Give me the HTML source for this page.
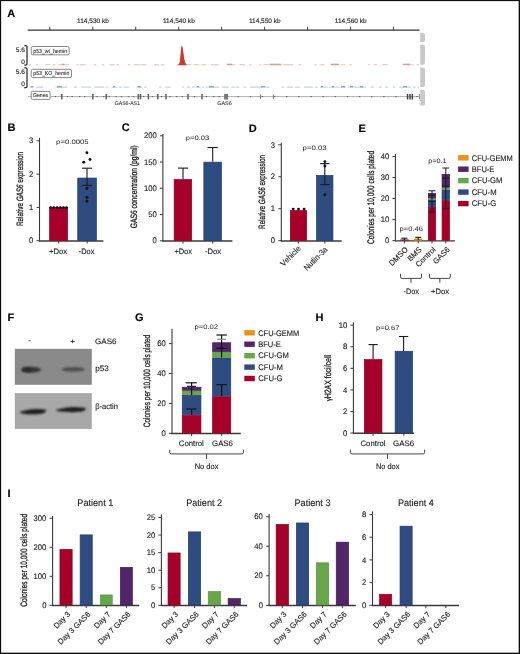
<!DOCTYPE html>
<html><head><meta charset="utf-8"><style>
html,body{margin:0;padding:0;background:#fff;width:520px;height:654px;overflow:hidden;}
svg{display:block;will-change:transform;}
text{font-family:"Liberation Sans",sans-serif;text-rendering:geometricPrecision;fill:#222;stroke:#222;stroke-width:0.12px;}
</style></head><body>
<svg width="520" height="654" viewBox="0 0 520 654">
<rect x="0" y="0" width="520" height="654" fill="#fff"/>
<text x="7.3" y="16.8" font-size="11" font-weight="bold" style="fill:#000;stroke:#000">A</text>
<line x1="27.7" y1="30.1" x2="419.6" y2="30.1" stroke="#333" stroke-width="1.15"/>
<line x1="49.8" y1="26.8" x2="49.8" y2="30" stroke="#333" stroke-width="0.9"/>
<line x1="92.76" y1="26.8" x2="92.76" y2="30" stroke="#333" stroke-width="0.9"/>
<line x1="135.72" y1="26.8" x2="135.72" y2="30" stroke="#333" stroke-width="0.9"/>
<line x1="178.68" y1="26.8" x2="178.68" y2="30" stroke="#333" stroke-width="0.9"/>
<line x1="221.64" y1="26.8" x2="221.64" y2="30" stroke="#333" stroke-width="0.9"/>
<line x1="264.6" y1="26.8" x2="264.6" y2="30" stroke="#333" stroke-width="0.9"/>
<line x1="307.56" y1="26.8" x2="307.56" y2="30" stroke="#333" stroke-width="0.9"/>
<line x1="350.52" y1="26.8" x2="350.52" y2="30" stroke="#333" stroke-width="0.9"/>
<line x1="393.48" y1="26.8" x2="393.48" y2="30" stroke="#333" stroke-width="0.9"/>
<text x="92.96" y="22.8" font-size="6.4" text-anchor="middle" textLength="31.8" lengthAdjust="spacingAndGlyphs">114,530 kb</text>
<text x="178.88" y="22.8" font-size="6.4" text-anchor="middle" textLength="31.8" lengthAdjust="spacingAndGlyphs">114,540 kb</text>
<text x="264.8" y="22.8" font-size="6.4" text-anchor="middle" textLength="31.8" lengthAdjust="spacingAndGlyphs">114,550 kb</text>
<text x="350.72" y="22.8" font-size="6.4" text-anchor="middle" textLength="31.8" lengthAdjust="spacingAndGlyphs">114,560 kb</text>
<path d="M420.2,32.8 L423,32.8 Q425,32.8 425,35 L425,40.1 Q425,42.3 423,42.3 L420.2,42.3 Z" fill="#c9c9c9"/>
<path d="M420.2,44.8 L423,44.8 Q425,44.8 425,47 L425,62.5 Q425,64.7 423,64.7 L420.2,64.7 Z" fill="#c9c9c9"/>
<path d="M420.2,67.5 L423,67.5 Q425,67.5 425,69.7 L425,84.9 Q425,87.1 423,87.1 L420.2,87.1 Z" fill="#c9c9c9"/>
<path d="M420.2,89.9 L423,89.9 Q425,89.9 425,92.1 L425,103.4 Q425,105.6 423,105.6 L420.2,105.6 Z" fill="#c9c9c9"/>
<path d="M24.3,45.5 L25.8,45.5 Q27,45.5 27,46.7 L27,63.8 Q27,65 25.8,65 L24.3,65" fill="none" stroke="#2a2a2a" stroke-width="1.25"/>
<path d="M24.3,67.9 L25.8,67.9 Q27,67.9 27,69.1 L27,86.4 Q27,87.6 25.8,87.6 L24.3,87.6" fill="none" stroke="#2a2a2a" stroke-width="1.25"/>
<text x="24.9" y="51.6" font-size="6.5" text-anchor="end">5.6</text>
<text x="24.8" y="63.6" font-size="6.5" text-anchor="end">0</text>
<text x="24.9" y="74" font-size="6.5" text-anchor="end">5.6</text>
<text x="24.8" y="86" font-size="6.5" text-anchor="end">0</text>
<rect x="31.2" y="46.5" width="37.9" height="8.3" rx="1.6" fill="#fff" stroke="#7a7a7a" stroke-width="0.9"/>
<text x="33.3" y="52.6" font-size="5.8" style="fill:#333;stroke:#333" textLength="33.8" lengthAdjust="spacingAndGlyphs">p53_wt_hemin</text>
<rect x="31.2" y="69.3" width="40.3" height="8.3" rx="1.6" fill="#fff" stroke="#7a7a7a" stroke-width="0.9"/>
<text x="33.3" y="75.3" font-size="5.8" style="fill:#333;stroke:#333" textLength="36" lengthAdjust="spacingAndGlyphs">p53_KO_hemin</text>
<line x1="28" y1="96.6" x2="31" y2="96.6" stroke="#9a9a9a" stroke-width="0.8"/>
<rect x="31.2" y="91.4" width="18.9" height="8.0" rx="1.2" fill="#fff" stroke="#7a7a7a" stroke-width="0.9"/>
<text x="33.1" y="97.1" font-size="5.6" style="fill:#333;stroke:#333" textLength="14.9" lengthAdjust="spacingAndGlyphs">Genes</text>
<rect x="28.7" y="64.25" width="2.7" height="1" fill="#efbcb3"/>
<rect x="36" y="64.25" width="2" height="1" fill="#efbcb3"/>
<rect x="45.5" y="64.25" width="4.7" height="1" fill="#efbcb3"/>
<rect x="52.9" y="64.25" width="2.7" height="1" fill="#efbcb3"/>
<rect x="58.3" y="64.25" width="10.7" height="1" fill="#efbcb3"/>
<rect x="76.5" y="64.25" width="2" height="1" fill="#efbcb3"/>
<rect x="79.8" y="64.25" width="6.1" height="1" fill="#efbcb3"/>
<rect x="93.7" y="64.25" width="2.6" height="1" fill="#efbcb3"/>
<rect x="102" y="64.25" width="2.2" height="1" fill="#efbcb3"/>
<rect x="109.5" y="64.25" width="5.7" height="1" fill="#efbcb3"/>
<rect x="116.5" y="64.25" width="2.7" height="1" fill="#efbcb3"/>
<rect x="128" y="64.25" width="2.3" height="1" fill="#efbcb3"/>
<rect x="134" y="64.25" width="6" height="1" fill="#efbcb3"/>
<rect x="140.8" y="64.25" width="5.6" height="1" fill="#efbcb3"/>
<rect x="154.2" y="64.25" width="4.7" height="1" fill="#efbcb3"/>
<rect x="161" y="64.25" width="3.3" height="1" fill="#efbcb3"/>
<rect x="187" y="64.25" width="4.5" height="1" fill="#efbcb3"/>
<rect x="193.7" y="64.25" width="5.4" height="1" fill="#efbcb3"/>
<rect x="201.2" y="64.25" width="5.1" height="1" fill="#efbcb3"/>
<rect x="210.8" y="64.25" width="8.1" height="1" fill="#efbcb3"/>
<rect x="226.7" y="64.25" width="8.8" height="1" fill="#efbcb3"/>
<rect x="239.5" y="64.25" width="5.4" height="1" fill="#efbcb3"/>
<rect x="249.3" y="64.25" width="2.3" height="1" fill="#efbcb3"/>
<rect x="259.4" y="64.25" width="2" height="1" fill="#efbcb3"/>
<rect x="263.5" y="64.25" width="18.1" height="1" fill="#efbcb3"/>
<rect x="283.6" y="64.25" width="9.5" height="1" fill="#efbcb3"/>
<rect x="298.5" y="64.25" width="2.6" height="1" fill="#efbcb3"/>
<rect x="314.3" y="64.25" width="2.3" height="1" fill="#efbcb3"/>
<rect x="320.4" y="64.25" width="4" height="1" fill="#efbcb3"/>
<rect x="330.5" y="64.25" width="8.7" height="1" fill="#efbcb3"/>
<rect x="340.6" y="64.25" width="4.7" height="1" fill="#efbcb3"/>
<rect x="349.3" y="64.25" width="2.3" height="1" fill="#efbcb3"/>
<rect x="368.2" y="64.25" width="2" height="1" fill="#efbcb3"/>
<rect x="373.5" y="64.25" width="3.4" height="1" fill="#efbcb3"/>
<rect x="382.2" y="64.25" width="5.4" height="1" fill="#efbcb3"/>
<rect x="402.4" y="64.25" width="10.8" height="1" fill="#efbcb3"/>
<rect x="416.5" y="64.25" width="2.7" height="1" fill="#efbcb3"/>
<rect x="61.5" y="63.7" width="3" height="1.4" fill="#e49a8d"/>
<rect x="227" y="63.7" width="5" height="1.4" fill="#e49a8d"/>
<rect x="270" y="63.7" width="11" height="1.4" fill="#e49a8d"/>
<rect x="331" y="63.7" width="8" height="1.4" fill="#e49a8d"/>
<rect x="403" y="63.7" width="7" height="1.4" fill="#e49a8d"/>
<path d="M176.3,65.2 L178.8,64.3 L179.8,62 L180.4,55 L181.1,48 L181.9,45 L182.7,47.5 L183.5,53 L184.2,58.5 L185.2,62.8 L187.1,65.2 Z" fill="#cc3b2c"/>
<rect x="29.3" y="86.6" width="4.8" height="1" fill="#b7c8e6"/>
<rect x="36.3" y="86.6" width="6.8" height="1" fill="#b7c8e6"/>
<rect x="55.6" y="86.6" width="11.4" height="1" fill="#b7c8e6"/>
<rect x="73.8" y="86.6" width="3.3" height="1" fill="#b7c8e6"/>
<rect x="81.2" y="86.6" width="10.1" height="1" fill="#b7c8e6"/>
<rect x="94" y="86.6" width="10.4" height="1" fill="#b7c8e6"/>
<rect x="105.8" y="86.6" width="2" height="1" fill="#b7c8e6"/>
<rect x="111.8" y="86.6" width="5.4" height="1" fill="#b7c8e6"/>
<rect x="119.2" y="86.6" width="2.7" height="1" fill="#b7c8e6"/>
<rect x="123.3" y="86.6" width="6" height="1" fill="#b7c8e6"/>
<rect x="137" y="86.6" width="4.8" height="1" fill="#b7c8e6"/>
<rect x="144.1" y="86.6" width="2.7" height="1" fill="#b7c8e6"/>
<rect x="158.9" y="86.6" width="2.7" height="1" fill="#b7c8e6"/>
<rect x="165.1" y="86.6" width="5.7" height="1" fill="#b7c8e6"/>
<rect x="182.2" y="86.6" width="2" height="1" fill="#b7c8e6"/>
<rect x="186.6" y="86.6" width="3.3" height="1" fill="#b7c8e6"/>
<rect x="191.6" y="86.6" width="2.7" height="1" fill="#b7c8e6"/>
<rect x="195.7" y="86.6" width="4.7" height="1" fill="#b7c8e6"/>
<rect x="202" y="86.6" width="2.4" height="1" fill="#b7c8e6"/>
<rect x="205.8" y="86.6" width="13.4" height="1" fill="#b7c8e6"/>
<rect x="221.9" y="86.6" width="6.9" height="1" fill="#b7c8e6"/>
<rect x="231.1" y="86.6" width="4" height="1" fill="#b7c8e6"/>
<rect x="235.8" y="86.6" width="3.7" height="1" fill="#b7c8e6"/>
<rect x="243.8" y="86.6" width="2.5" height="1" fill="#b7c8e6"/>
<rect x="249.9" y="86.6" width="19.5" height="1" fill="#b7c8e6"/>
<rect x="281.5" y="86.6" width="2.7" height="1" fill="#b7c8e6"/>
<rect x="286.9" y="86.6" width="6.1" height="1" fill="#b7c8e6"/>
<rect x="294.7" y="86.6" width="5.4" height="1" fill="#b7c8e6"/>
<rect x="304.1" y="86.6" width="8.8" height="1" fill="#b7c8e6"/>
<rect x="314.9" y="86.6" width="2.7" height="1" fill="#b7c8e6"/>
<rect x="320.3" y="86.6" width="7.4" height="1" fill="#b7c8e6"/>
<rect x="329" y="86.6" width="10.8" height="1" fill="#b7c8e6"/>
<rect x="340.5" y="86.6" width="5.4" height="1" fill="#b7c8e6"/>
<rect x="347.9" y="86.6" width="17.9" height="1" fill="#b7c8e6"/>
<rect x="370.5" y="86.6" width="3.3" height="1" fill="#b7c8e6"/>
<rect x="379" y="86.6" width="2.6" height="1" fill="#b7c8e6"/>
<rect x="384.9" y="86.6" width="3.1" height="1" fill="#b7c8e6"/>
<rect x="392.7" y="86.6" width="2.7" height="1" fill="#b7c8e6"/>
<rect x="399.4" y="86.6" width="11.5" height="1" fill="#b7c8e6"/>
<rect x="413.1" y="86.6" width="2.5" height="1" fill="#b7c8e6"/>
<rect x="417.6" y="86.6" width="1.4" height="1" fill="#b7c8e6"/>
<rect x="31" y="85.9" width="2" height="1.5" fill="#8ea8d6"/>
<rect x="57" y="85.9" width="5" height="1.5" fill="#8ea8d6"/>
<rect x="113" y="85.9" width="2" height="1.5" fill="#8ea8d6"/>
<rect x="137.5" y="85.9" width="3.5" height="1.5" fill="#8ea8d6"/>
<rect x="197" y="85.9" width="2" height="1.5" fill="#8ea8d6"/>
<rect x="209" y="85.9" width="5" height="1.5" fill="#8ea8d6"/>
<rect x="261" y="85.9" width="4" height="1.5" fill="#8ea8d6"/>
<rect x="321" y="85.9" width="2" height="1.5" fill="#8ea8d6"/>
<rect x="332" y="85.9" width="2" height="1.5" fill="#8ea8d6"/>
<rect x="341" y="85.9" width="4" height="1.5" fill="#8ea8d6"/>
<rect x="350" y="85.9" width="3" height="1.5" fill="#8ea8d6"/>
<rect x="360" y="85.9" width="3" height="1.5" fill="#8ea8d6"/>
<rect x="403" y="85.9" width="4" height="1.5" fill="#8ea8d6"/>
<line x1="50.4" y1="96.6" x2="419.2" y2="96.6" stroke="#9a9a9a" stroke-width="0.8"/>
<rect x="54.7" y="96.05" width="1.4" height="1.1" fill="#666"/>
<rect x="66.8" y="96.05" width="1.4" height="1.1" fill="#666"/>
<rect x="71.5" y="96.05" width="1.4" height="1.1" fill="#666"/>
<rect x="78.9" y="96.05" width="1.4" height="1.1" fill="#666"/>
<rect x="84" y="96.05" width="1.4" height="1.1" fill="#666"/>
<rect x="96.4" y="96.05" width="1.4" height="1.1" fill="#666"/>
<rect x="103.1" y="96.05" width="1.4" height="1.1" fill="#666"/>
<rect x="108.5" y="96.05" width="1.4" height="1.1" fill="#666"/>
<rect x="115.3" y="96.05" width="1.4" height="1.1" fill="#666"/>
<rect x="120.8" y="96.05" width="1.4" height="1.1" fill="#666"/>
<rect x="127.8" y="96.05" width="1.4" height="1.1" fill="#666"/>
<rect x="132.8" y="96.05" width="1.4" height="1.1" fill="#666"/>
<rect x="142.8" y="96.05" width="1.4" height="1.1" fill="#666"/>
<rect x="151.8" y="96.05" width="1.4" height="1.1" fill="#666"/>
<rect x="160.8" y="96.05" width="1.4" height="1.1" fill="#666"/>
<rect x="169.4" y="96.05" width="1.4" height="1.1" fill="#666"/>
<rect x="176.1" y="96.05" width="1.4" height="1.1" fill="#666"/>
<rect x="181.5" y="96.05" width="1.4" height="1.1" fill="#666"/>
<rect x="193.6" y="96.05" width="1.4" height="1.1" fill="#666"/>
<rect x="205.7" y="96.05" width="1.4" height="1.1" fill="#666"/>
<rect x="213.1" y="96.05" width="1.4" height="1.1" fill="#666"/>
<rect x="218.5" y="96.05" width="1.4" height="1.1" fill="#666"/>
<rect x="237.4" y="96.05" width="1.4" height="1.1" fill="#666"/>
<rect x="249.55" y="96.05" width="1.4" height="1.1" fill="#666"/>
<rect x="261.7" y="96.05" width="1.4" height="1.1" fill="#666"/>
<rect x="273.85" y="96.05" width="1.4" height="1.1" fill="#666"/>
<rect x="286" y="96.05" width="1.4" height="1.1" fill="#666"/>
<rect x="298.15" y="96.05" width="1.4" height="1.1" fill="#666"/>
<rect x="310.3" y="96.05" width="1.4" height="1.1" fill="#666"/>
<rect x="322.45" y="96.05" width="1.4" height="1.1" fill="#666"/>
<rect x="334.6" y="96.05" width="1.4" height="1.1" fill="#666"/>
<rect x="346.75" y="96.05" width="1.4" height="1.1" fill="#666"/>
<rect x="358.9" y="96.05" width="1.4" height="1.1" fill="#666"/>
<rect x="371.05" y="96.05" width="1.4" height="1.1" fill="#666"/>
<rect x="383.2" y="96.05" width="1.4" height="1.1" fill="#666"/>
<rect x="395.35" y="96.05" width="1.4" height="1.1" fill="#666"/>
<rect x="416.2" y="96.05" width="1.4" height="1.1" fill="#666"/>
<rect x="61" y="94" width="1.6" height="5.4" fill="#666"/>
<rect x="92" y="94" width="1.6" height="5.4" fill="#666"/>
<rect x="105.5" y="94" width="1.6" height="5.4" fill="#666"/>
<rect x="137.5" y="94" width="1.6" height="5.4" fill="#666"/>
<rect x="139.7" y="94" width="1.6" height="5.4" fill="#666"/>
<rect x="147.6" y="94" width="1.6" height="5.4" fill="#666"/>
<rect x="157" y="94" width="1.6" height="5.4" fill="#666"/>
<rect x="165.2" y="94" width="1.6" height="5.4" fill="#666"/>
<rect x="187.2" y="94" width="1.6" height="5.4" fill="#666"/>
<rect x="201.2" y="94" width="1.6" height="5.4" fill="#666"/>
<rect x="260" y="94.4" width="0.8" height="4.6" fill="#666"/>
<rect x="272.9" y="94.4" width="0.8" height="4.6" fill="#666"/>
<rect x="224.1" y="93.9" width="4" height="5.6" fill="#777"/>
<rect x="406.8" y="93.9" width="1.5" height="5.6" fill="#444"/>
<rect x="409.3" y="93.9" width="1.5" height="5.6" fill="#444"/>
<rect x="411.6" y="93.9" width="1.5" height="5.6" fill="#444"/>
<rect x="418.9" y="94" width="0.8" height="5.2" fill="#666"/>
<text x="127.3" y="104.5" font-size="5.4" text-anchor="middle" style="fill:#444;stroke:#444" textLength="25" lengthAdjust="spacingAndGlyphs">GAS6-AS1</text>
<text x="224.5" y="104.5" font-size="5.4" text-anchor="middle" style="fill:#444;stroke:#444" textLength="14.6" lengthAdjust="spacingAndGlyphs">GAS6</text>
<text x="7.4" y="131.1" font-size="11" font-weight="bold" style="fill:#000;stroke:#000">B</text>
<line x1="39.5" y1="137.8" x2="39.5" y2="241.25" stroke="#3a3a3a" stroke-width="1.1"/>
<line x1="36.5" y1="240.7" x2="39.5" y2="240.7" stroke="#3a3a3a" stroke-width="0.99"/>
<text x="33.3" y="243.35" font-size="8.1" text-anchor="end" textLength="4.27" lengthAdjust="spacingAndGlyphs">0</text>
<line x1="36.5" y1="207.4" x2="39.5" y2="207.4" stroke="#3a3a3a" stroke-width="0.99"/>
<text x="33.3" y="210.05" font-size="8.1" text-anchor="end" textLength="4.27" lengthAdjust="spacingAndGlyphs">1</text>
<line x1="36.5" y1="174.1" x2="39.5" y2="174.1" stroke="#3a3a3a" stroke-width="0.99"/>
<text x="33.3" y="176.75" font-size="8.1" text-anchor="end" textLength="4.27" lengthAdjust="spacingAndGlyphs">2</text>
<line x1="36.5" y1="140.8" x2="39.5" y2="140.8" stroke="#3a3a3a" stroke-width="0.99"/>
<text x="33.3" y="143.45" font-size="8.1" text-anchor="end" textLength="4.27" lengthAdjust="spacingAndGlyphs">3</text>
<line x1="38.95" y1="240.95" x2="103.4" y2="240.95" stroke="#3a3a3a" stroke-width="1.4"/>
<line x1="58.6" y1="240.7" x2="58.6" y2="243.5" stroke="#3a3a3a" stroke-width="0.99"/>
<line x1="87.1" y1="240.7" x2="87.1" y2="243.5" stroke="#3a3a3a" stroke-width="0.99"/>
<rect x="49.55" y="207.75" width="18.1" height="32.6" fill="#a4002a" stroke="#94001f" stroke-width="0.7"/>
<rect x="77.75" y="178.05" width="18.6" height="62.3" fill="#2e4c80" stroke="#1e3a73" stroke-width="0.7"/>
<line x1="87" y1="168.2" x2="87" y2="185.5" stroke="#1a1a1a" stroke-width="1.1"/>
<line x1="82" y1="168.2" x2="92" y2="168.2" stroke="#1a1a1a" stroke-width="1.1"/>
<line x1="82" y1="185.5" x2="92" y2="185.5" stroke="#1a1a1a" stroke-width="1.1"/>
<circle cx="50.6" cy="207.6" r="1.45" fill="#111"/>
<circle cx="53.8" cy="207.6" r="1.45" fill="#111"/>
<circle cx="57" cy="207.6" r="1.45" fill="#111"/>
<circle cx="60.2" cy="207.6" r="1.45" fill="#111"/>
<circle cx="63.4" cy="207.6" r="1.45" fill="#111"/>
<circle cx="66.6" cy="207.6" r="1.45" fill="#111"/>
<circle cx="86.9" cy="152.8" r="1.45" fill="#111"/>
<circle cx="90" cy="159.5" r="1.45" fill="#111"/>
<circle cx="83.7" cy="162.3" r="1.45" fill="#111"/>
<circle cx="86.9" cy="188.4" r="1.45" fill="#111"/>
<circle cx="86.9" cy="197.5" r="1.45" fill="#111"/>
<circle cx="86.9" cy="201.2" r="1.45" fill="#111"/>
<text x="72.4" y="143.8" font-size="6.4" text-anchor="middle" style="fill:#222;stroke:none" textLength="32.6" lengthAdjust="spacingAndGlyphs">p=0.0005</text>
<text x="58.1" y="254" font-size="7.9" text-anchor="middle" textLength="18.2" lengthAdjust="spacingAndGlyphs">+Dox</text>
<text x="86.6" y="254" font-size="7.9" text-anchor="middle" textLength="15.6" lengthAdjust="spacingAndGlyphs">-Dox</text>
<text transform="translate(22.8,189) rotate(-90)" text-anchor="middle" font-size="9.2" style="stroke-width:0.3px" textLength="74" lengthAdjust="spacingAndGlyphs">Relative <tspan font-style="italic">GAS6</tspan> expression</text>
<text x="121.8" y="131.2" font-size="11" font-weight="bold" style="fill:#000;stroke:#000">C</text>
<line x1="162.9" y1="133.9" x2="162.9" y2="241.35" stroke="#3a3a3a" stroke-width="1.1"/>
<line x1="159.9" y1="240.8" x2="162.9" y2="240.8" stroke="#3a3a3a" stroke-width="0.99"/>
<text x="156.7" y="243.45" font-size="8.1" text-anchor="end" textLength="4.27" lengthAdjust="spacingAndGlyphs">0</text>
<line x1="159.9" y1="214.55" x2="162.9" y2="214.55" stroke="#3a3a3a" stroke-width="0.99"/>
<text x="156.7" y="217.2" font-size="8.1" text-anchor="end" textLength="8.54" lengthAdjust="spacingAndGlyphs">50</text>
<line x1="159.9" y1="188.3" x2="162.9" y2="188.3" stroke="#3a3a3a" stroke-width="0.99"/>
<text x="156.7" y="190.95" font-size="8.1" text-anchor="end" textLength="12.82" lengthAdjust="spacingAndGlyphs">100</text>
<line x1="159.9" y1="162.05" x2="162.9" y2="162.05" stroke="#3a3a3a" stroke-width="0.99"/>
<text x="156.7" y="164.7" font-size="8.1" text-anchor="end" textLength="12.82" lengthAdjust="spacingAndGlyphs">150</text>
<line x1="159.9" y1="135.8" x2="162.9" y2="135.8" stroke="#3a3a3a" stroke-width="0.99"/>
<text x="156.7" y="138.45" font-size="8.1" text-anchor="end" textLength="12.82" lengthAdjust="spacingAndGlyphs">200</text>
<line x1="162.35" y1="241.05" x2="232.4" y2="241.05" stroke="#3a3a3a" stroke-width="1.4"/>
<line x1="183" y1="240.8" x2="183" y2="243.6" stroke="#3a3a3a" stroke-width="0.99"/>
<line x1="212.7" y1="240.8" x2="212.7" y2="243.6" stroke="#3a3a3a" stroke-width="0.99"/>
<rect x="174.15" y="179.55" width="17.5" height="60.9" fill="#a4002a" stroke="#94001f" stroke-width="0.7"/>
<rect x="203.85" y="162.15" width="17.6" height="78.3" fill="#2e4c80" stroke="#1e3a73" stroke-width="0.7"/>
<line x1="183" y1="168.1" x2="183" y2="179.2" stroke="#1a1a1a" stroke-width="1.1"/>
<line x1="177.9" y1="168.1" x2="188.1" y2="168.1" stroke="#1a1a1a" stroke-width="1.1"/>
<line x1="212.7" y1="147.5" x2="212.7" y2="161.8" stroke="#1a1a1a" stroke-width="1.1"/>
<line x1="207.6" y1="147.5" x2="217.8" y2="147.5" stroke="#1a1a1a" stroke-width="1.1"/>
<text x="197.6" y="140" font-size="6.4" text-anchor="middle" style="fill:#222;stroke:none" textLength="23.5" lengthAdjust="spacingAndGlyphs">p=0.03</text>
<text x="183.2" y="254.4" font-size="7.9" text-anchor="middle" textLength="17.6" lengthAdjust="spacingAndGlyphs">+Dox</text>
<text x="213" y="254.4" font-size="7.9" text-anchor="middle" textLength="16" lengthAdjust="spacingAndGlyphs">-Dox</text>
<text transform="translate(136.6,186.8) rotate(-90)" text-anchor="middle" font-size="9.2" style="stroke-width:0.3px" textLength="83" lengthAdjust="spacingAndGlyphs">GAS6 concentration (pg/ml)</text>
<text x="248.7" y="131.5" font-size="11" font-weight="bold" style="fill:#000;stroke:#000">D</text>
<line x1="281.3" y1="142.8" x2="281.3" y2="241.25" stroke="#3a3a3a" stroke-width="1.1"/>
<line x1="278.3" y1="240.7" x2="281.3" y2="240.7" stroke="#3a3a3a" stroke-width="0.99"/>
<text x="275.1" y="243.35" font-size="8.1" text-anchor="end" textLength="4.27" lengthAdjust="spacingAndGlyphs">0</text>
<line x1="278.3" y1="208.75" x2="281.3" y2="208.75" stroke="#3a3a3a" stroke-width="0.99"/>
<text x="275.1" y="211.4" font-size="8.1" text-anchor="end" textLength="4.27" lengthAdjust="spacingAndGlyphs">1</text>
<line x1="278.3" y1="176.8" x2="281.3" y2="176.8" stroke="#3a3a3a" stroke-width="0.99"/>
<text x="275.1" y="179.45" font-size="8.1" text-anchor="end" textLength="4.27" lengthAdjust="spacingAndGlyphs">2</text>
<line x1="278.3" y1="144.85" x2="281.3" y2="144.85" stroke="#3a3a3a" stroke-width="0.99"/>
<text x="275.1" y="147.5" font-size="8.1" text-anchor="end" textLength="4.27" lengthAdjust="spacingAndGlyphs">3</text>
<line x1="280.75" y1="240.95" x2="341.6" y2="240.95" stroke="#3a3a3a" stroke-width="1.4"/>
<line x1="298.4" y1="240.7" x2="298.4" y2="243.5" stroke="#3a3a3a" stroke-width="0.99"/>
<line x1="324.9" y1="240.7" x2="324.9" y2="243.5" stroke="#3a3a3a" stroke-width="0.99"/>
<rect x="290.35" y="210.54" width="16.3" height="29.81" fill="#a4002a" stroke="#94001f" stroke-width="0.7"/>
<rect x="316.55" y="175.45" width="16.4" height="64.9" fill="#2e4c80" stroke="#1e3a73" stroke-width="0.7"/>
<line x1="324.8" y1="163.6" x2="324.8" y2="184.6" stroke="#1a1a1a" stroke-width="1.1"/>
<line x1="320.2" y1="163.6" x2="329.4" y2="163.6" stroke="#1a1a1a" stroke-width="1.1"/>
<line x1="320.2" y1="184.6" x2="329.4" y2="184.6" stroke="#1a1a1a" stroke-width="1.1"/>
<circle cx="293.2" cy="209.1" r="1.45" fill="#111"/>
<circle cx="298.5" cy="209.1" r="1.45" fill="#111"/>
<circle cx="304.1" cy="209.1" r="1.45" fill="#111"/>
<circle cx="324.9" cy="161.6" r="1.45" fill="#111"/>
<circle cx="324.9" cy="166" r="1.45" fill="#111"/>
<circle cx="324.9" cy="194.8" r="1.45" fill="#111"/>
<text x="314.6" y="149.6" font-size="6.4" text-anchor="middle" style="fill:#222;stroke:none" textLength="24" lengthAdjust="spacingAndGlyphs">p=0.03</text>
<text transform="translate(301.4,248.9) rotate(-45)" text-anchor="end" font-size="7.9" textLength="25.2" lengthAdjust="spacingAndGlyphs">Vehicle</text>
<text transform="translate(328,250) rotate(-45)" text-anchor="end" font-size="7.9" textLength="29.8" lengthAdjust="spacingAndGlyphs">Nutlin-3a</text>
<text transform="translate(264.6,191.9) rotate(-90)" text-anchor="middle" font-size="9.2" style="stroke-width:0.3px" textLength="74" lengthAdjust="spacingAndGlyphs">Relative <tspan font-style="italic">GAS6</tspan> expression</text>
<text x="358.5" y="131.5" font-size="11" font-weight="bold" style="fill:#000;stroke:#000">E</text>
<line x1="395.4" y1="154.1" x2="395.4" y2="241.15" stroke="#3a3a3a" stroke-width="1.1"/>
<line x1="392.4" y1="240.6" x2="395.4" y2="240.6" stroke="#3a3a3a" stroke-width="0.99"/>
<text x="389.2" y="243.25" font-size="8.1" text-anchor="end" textLength="4.27" lengthAdjust="spacingAndGlyphs">0</text>
<line x1="392.4" y1="219.6" x2="395.4" y2="219.6" stroke="#3a3a3a" stroke-width="0.99"/>
<text x="389.2" y="222.25" font-size="8.1" text-anchor="end" textLength="8.54" lengthAdjust="spacingAndGlyphs">10</text>
<line x1="392.4" y1="198.6" x2="395.4" y2="198.6" stroke="#3a3a3a" stroke-width="0.99"/>
<text x="389.2" y="201.25" font-size="8.1" text-anchor="end" textLength="8.54" lengthAdjust="spacingAndGlyphs">20</text>
<line x1="392.4" y1="177.6" x2="395.4" y2="177.6" stroke="#3a3a3a" stroke-width="0.99"/>
<text x="389.2" y="180.25" font-size="8.1" text-anchor="end" textLength="8.54" lengthAdjust="spacingAndGlyphs">30</text>
<line x1="392.4" y1="156.6" x2="395.4" y2="156.6" stroke="#3a3a3a" stroke-width="0.99"/>
<text x="389.2" y="159.25" font-size="8.1" text-anchor="end" textLength="8.54" lengthAdjust="spacingAndGlyphs">40</text>
<line x1="394.85" y1="240.85" x2="454.9" y2="240.85" stroke="#3a3a3a" stroke-width="1.4"/>
<line x1="404.4" y1="240.6" x2="404.4" y2="243.4" stroke="#3a3a3a" stroke-width="0.99"/>
<line x1="418.2" y1="240.6" x2="418.2" y2="243.4" stroke="#3a3a3a" stroke-width="0.99"/>
<line x1="432" y1="240.6" x2="432" y2="243.4" stroke="#3a3a3a" stroke-width="0.99"/>
<line x1="445.8" y1="240.6" x2="445.8" y2="243.4" stroke="#3a3a3a" stroke-width="0.99"/>
<rect x="400.3" y="239.4" width="8.3" height="1.2" fill="#a4002a"/>
<line x1="404.4" y1="238.2" x2="404.4" y2="240" stroke="#1a1a1a" stroke-width="1.1"/>
<line x1="401.4" y1="238.2" x2="407.4" y2="238.2" stroke="#1a1a1a" stroke-width="1.1"/>
<rect x="414.35" y="238.95" width="7.6" height="1.3" fill="#e8921c" stroke="#d88010" stroke-width="0.7"/>
<line x1="418.2" y1="237.3" x2="418.2" y2="240" stroke="#1a1a1a" stroke-width="1.1"/>
<line x1="415.2" y1="237.3" x2="421.2" y2="237.3" stroke="#1a1a1a" stroke-width="1.1"/>
<rect x="428.35" y="207.15" width="7.3" height="33.1" fill="#a4002a" stroke="#94001f" stroke-width="0.7"/>
<rect x="428.35" y="200.35" width="7.3" height="6.1" fill="#2e4c80" stroke="#1e3a73" stroke-width="0.7"/>
<rect x="428.35" y="198.65" width="7.3" height="1" fill="#67a64a" stroke="#57983a" stroke-width="0.7"/>
<rect x="428.35" y="193.55" width="7.3" height="4.4" fill="#522468" stroke="#431a58" stroke-width="0.7"/>
<line x1="432" y1="190.8" x2="432" y2="212" stroke="#1a1a1a" stroke-width="1"/>
<line x1="428.6" y1="190.8" x2="435.4" y2="190.8" stroke="#1a1a1a" stroke-width="1"/>
<line x1="428.6" y1="195" x2="435.4" y2="195" stroke="#1a1a1a" stroke-width="1"/>
<line x1="428.6" y1="201.3" x2="435.4" y2="201.3" stroke="#1a1a1a" stroke-width="1"/>
<line x1="428.6" y1="212" x2="435.4" y2="212" stroke="#1a1a1a" stroke-width="1"/>
<rect x="442.05" y="200.35" width="7.5" height="39.9" fill="#a4002a" stroke="#94001f" stroke-width="0.7"/>
<rect x="442.05" y="189.95" width="7.5" height="9.7" fill="#2e4c80" stroke="#1e3a73" stroke-width="0.7"/>
<rect x="442.05" y="187.95" width="7.5" height="1.3" fill="#67a64a" stroke="#57983a" stroke-width="0.7"/>
<rect x="442.05" y="174.35" width="7.5" height="12.9" fill="#522468" stroke="#431a58" stroke-width="0.7"/>
<line x1="445.8" y1="168" x2="445.8" y2="208.7" stroke="#1a1a1a" stroke-width="1"/>
<line x1="442.4" y1="168" x2="449.2" y2="168" stroke="#1a1a1a" stroke-width="1"/>
<line x1="442.4" y1="178.2" x2="449.2" y2="178.2" stroke="#1a1a1a" stroke-width="1"/>
<line x1="442.4" y1="186" x2="449.2" y2="186" stroke="#1a1a1a" stroke-width="1"/>
<line x1="442.4" y1="208.7" x2="449.2" y2="208.7" stroke="#1a1a1a" stroke-width="1"/>
<text x="411.2" y="230.7" font-size="6.6" text-anchor="middle" style="fill:#222;stroke:none" textLength="23.4" lengthAdjust="spacingAndGlyphs">p=0.46</text>
<text x="437.4" y="162.9" font-size="6.6" text-anchor="middle" style="fill:#222;stroke:none" textLength="18.4" lengthAdjust="spacingAndGlyphs">p=0.1</text>
<text transform="translate(408.4,250) rotate(-45)" text-anchor="end" font-size="7.7">DMSO</text>
<text transform="translate(422.2,250) rotate(-45)" text-anchor="end" font-size="7.7">BMS</text>
<text transform="translate(436.2,250) rotate(-45)" text-anchor="end" font-size="7.7">Control</text>
<text transform="translate(450.4,250) rotate(-45)" text-anchor="end" font-size="7.7">GAS6</text>
<path d="M400.5,273.8 L400.5,276.9 Q400.5,278.4 402,278.4 L420,278.4 Q421.5,278.4 421.5,276.9 L421.5,273.8 M411,278.4 L411,282.8" fill="none" stroke="#333" stroke-width="0.9"/>
<path d="M429.4,273.8 L429.4,276.9 Q429.4,278.4 430.9,278.4 L448.8,278.4 Q450.3,278.4 450.3,276.9 L450.3,273.8 M439.85,278.4 L439.85,282.8" fill="none" stroke="#333" stroke-width="0.9"/>
<text x="411.2" y="293.6" font-size="7.9" text-anchor="middle" textLength="15.4" lengthAdjust="spacingAndGlyphs">-Dox</text>
<text x="440.1" y="293.6" font-size="7.9" text-anchor="middle" textLength="18" lengthAdjust="spacingAndGlyphs">+Dox</text>
<text transform="translate(374.1,197.4) rotate(-90)" text-anchor="middle" font-size="9.5" style="stroke-width:0.3px" textLength="93" lengthAdjust="spacingAndGlyphs">Colonies per 10,000 cells plated</text>
<rect x="458.1" y="155.1" width="10.5" height="5.4" fill="#e8921c"/>
<text x="471.8" y="160.5" font-size="8.1" textLength="41" lengthAdjust="spacingAndGlyphs">CFU-GEMM</text>
<rect x="458.1" y="166.5" width="10.5" height="5.4" fill="#522468"/>
<text x="471.8" y="171.9" font-size="8.1" textLength="22.6" lengthAdjust="spacingAndGlyphs">BFU-E</text>
<rect x="458.1" y="177.9" width="10.5" height="5.4" fill="#67a64a"/>
<text x="471.8" y="183.3" font-size="8.1" textLength="30.6" lengthAdjust="spacingAndGlyphs">CFU-GM</text>
<rect x="458.1" y="189.4" width="10.5" height="5.4" fill="#2e4c80"/>
<text x="471.8" y="194.8" font-size="8.1" textLength="24.8" lengthAdjust="spacingAndGlyphs">CFU-M</text>
<rect x="458.1" y="200.9" width="10.5" height="5.4" fill="#a4002a"/>
<text x="471.8" y="206.3" font-size="8.1" textLength="24.4" lengthAdjust="spacingAndGlyphs">CFU-G</text>
<text x="7.5" y="321.3" font-size="11" font-weight="bold" style="fill:#000;stroke:#000">F</text>
<defs><filter id="bl1" x="-50%" y="-200%" width="200%" height="500%"><feGaussianBlur stdDeviation="1.3 1.0"/></filter><filter id="bl2" x="-10%" y="-10%" width="120%" height="120%"><feGaussianBlur stdDeviation="0.5"/></filter></defs>
<rect x="14.8" y="348.8" width="77" height="36" fill="#8a8a8a"/>
<ellipse cx="31" cy="369.7" rx="10" ry="3" fill="#383838" filter="url(#bl1)"/>
<ellipse cx="27" cy="369.8" rx="4.5" ry="2.3" fill="#2a2a2a" filter="url(#bl1)"/>
<ellipse cx="73.2" cy="369.4" rx="11.6" ry="2.4" fill="#4e4e4e" filter="url(#bl1)"/>
<rect x="14.8" y="393.1" width="77" height="35.8" fill="#a8a8a8"/>
<path d="M19.5,412.2 Q23,410.6 31,409.3 Q41,408.5 46.3,410 Q46,413.2 40,414 Q30,414.8 22,413.4 Z" fill="#1e1e1e" filter="url(#bl1)"/>
<path d="M55.8,409.8 Q62,407.8 72,406.9 Q82,406.7 86.1,408.4 Q85.5,411.6 76,412.1 Q64,412.3 57,411 Z" fill="#1e1e1e" filter="url(#bl1)"/>
<text x="29.6" y="343.4" font-size="7.9" text-anchor="middle">-</text>
<text x="72.6" y="344.2" font-size="7.9" text-anchor="middle">+</text>
<text x="95" y="344.2" font-size="7.9" textLength="21.6" lengthAdjust="spacingAndGlyphs">GAS6</text>
<text x="95.2" y="370.9" font-size="7.9" textLength="13.6" lengthAdjust="spacingAndGlyphs">p53</text>
<text x="95.2" y="409.3" font-size="7.9" textLength="22.8" lengthAdjust="spacingAndGlyphs">β-actin</text>
<text x="135" y="321.4" font-size="11" font-weight="bold" style="fill:#000;stroke:#000">G</text>
<line x1="172" y1="328.8" x2="172" y2="433.85" stroke="#3a3a3a" stroke-width="1.1"/>
<line x1="169" y1="433.3" x2="172" y2="433.3" stroke="#3a3a3a" stroke-width="0.99"/>
<text x="165.8" y="435.95" font-size="8.1" text-anchor="end" textLength="4.27" lengthAdjust="spacingAndGlyphs">0</text>
<line x1="169" y1="403.4" x2="172" y2="403.4" stroke="#3a3a3a" stroke-width="0.99"/>
<text x="165.8" y="406.05" font-size="8.1" text-anchor="end" textLength="8.54" lengthAdjust="spacingAndGlyphs">20</text>
<line x1="169" y1="373.5" x2="172" y2="373.5" stroke="#3a3a3a" stroke-width="0.99"/>
<text x="165.8" y="376.15" font-size="8.1" text-anchor="end" textLength="8.54" lengthAdjust="spacingAndGlyphs">40</text>
<line x1="169" y1="343.6" x2="172" y2="343.6" stroke="#3a3a3a" stroke-width="0.99"/>
<text x="165.8" y="346.25" font-size="8.1" text-anchor="end" textLength="8.54" lengthAdjust="spacingAndGlyphs">60</text>
<line x1="171.45" y1="433.55" x2="240.8" y2="433.55" stroke="#3a3a3a" stroke-width="1.4"/>
<line x1="191.6" y1="433.3" x2="191.6" y2="436.1" stroke="#3a3a3a" stroke-width="0.99"/>
<line x1="221.6" y1="433.3" x2="221.6" y2="436.1" stroke="#3a3a3a" stroke-width="0.99"/>
<rect x="182.25" y="415.25" width="18.7" height="17.7" fill="#a4002a" stroke="#94001f" stroke-width="0.7"/>
<rect x="182.25" y="395.25" width="18.7" height="19.3" fill="#2e4c80" stroke="#1e3a73" stroke-width="0.7"/>
<rect x="182.25" y="390.95" width="18.7" height="3.6" fill="#67a64a" stroke="#57983a" stroke-width="0.7"/>
<rect x="182.25" y="387.25" width="18.7" height="3" fill="#522468" stroke="#431a58" stroke-width="0.7"/>
<line x1="191.6" y1="382.8" x2="191.6" y2="394.9" stroke="#111" stroke-width="1.2"/>
<line x1="185.7" y1="382.8" x2="196.7" y2="382.8" stroke="#111" stroke-width="1.2"/>
<line x1="187.1" y1="386.4" x2="196.1" y2="386.4" stroke="#111" stroke-width="1.2"/>
<line x1="191.6" y1="409" x2="191.6" y2="414.9" stroke="#111" stroke-width="1.2"/>
<line x1="186.3" y1="409" x2="196.2" y2="409" stroke="#111" stroke-width="1.2"/>
<rect x="212.65" y="396.55" width="18.1" height="36.4" fill="#a4002a" stroke="#94001f" stroke-width="0.7"/>
<rect x="212.65" y="357.95" width="18.1" height="37.9" fill="#2e4c80" stroke="#1e3a73" stroke-width="0.7"/>
<rect x="212.65" y="352.45" width="18.1" height="4.8" fill="#67a64a" stroke="#57983a" stroke-width="0.7"/>
<rect x="212.65" y="342.75" width="18.1" height="9" fill="#522468" stroke="#431a58" stroke-width="0.7"/>
<line x1="221.6" y1="335" x2="221.6" y2="357.6" stroke="#111" stroke-width="1.2"/>
<line x1="216.4" y1="335" x2="226.8" y2="335" stroke="#111" stroke-width="1.2"/>
<line x1="217.1" y1="339.3" x2="226.1" y2="339.3" stroke="#8a8a8a" stroke-width="1.2"/>
<line x1="216.4" y1="348.4" x2="226.8" y2="348.4" stroke="#111" stroke-width="1.2"/>
<line x1="221.6" y1="384.6" x2="221.6" y2="396.2" stroke="#111" stroke-width="1.2"/>
<line x1="216.4" y1="384.6" x2="226.8" y2="384.6" stroke="#111" stroke-width="1.2"/>
<text x="206.3" y="329.3" font-size="6.6" text-anchor="middle" style="fill:#222;stroke:none" textLength="23.6" lengthAdjust="spacingAndGlyphs">p=0.02</text>
<text x="191.3" y="446.1" font-size="7.9" text-anchor="middle" textLength="25" lengthAdjust="spacingAndGlyphs">Control</text>
<text x="222.5" y="446.1" font-size="7.9" text-anchor="middle" textLength="20.8" lengthAdjust="spacingAndGlyphs">GAS6</text>
<path d="M169.7,449.6 L169.7,452.4 Q169.7,453.9 171.2,453.9 L241.9,453.9 Q243.4,453.9 243.4,452.4 L243.4,449.6 M206.55,453.9 L206.55,458.9" fill="none" stroke="#333" stroke-width="0.9"/>
<text x="206.6" y="469.2" font-size="7.9" text-anchor="middle" textLength="23.8" lengthAdjust="spacingAndGlyphs">No dox</text>
<text transform="translate(150.3,381.05) rotate(-90)" text-anchor="middle" font-size="9.2" style="stroke-width:0.3px" textLength="92.5" lengthAdjust="spacingAndGlyphs">Colonies per 10,000 cells plated</text>
<rect x="244.3" y="330.1" width="10.5" height="5.4" fill="#e8921c"/>
<text x="258.2" y="335.5" font-size="8.1" textLength="41" lengthAdjust="spacingAndGlyphs">CFU-GEMM</text>
<rect x="244.3" y="341.5" width="10.5" height="5.4" fill="#522468"/>
<text x="258.2" y="346.9" font-size="8.1" textLength="22.6" lengthAdjust="spacingAndGlyphs">BFU-E</text>
<rect x="244.3" y="353" width="10.5" height="5.4" fill="#67a64a"/>
<text x="258.2" y="358.4" font-size="8.1" textLength="30.6" lengthAdjust="spacingAndGlyphs">CFU-GM</text>
<rect x="244.3" y="364.4" width="10.5" height="5.4" fill="#2e4c80"/>
<text x="258.2" y="369.8" font-size="8.1" textLength="24.8" lengthAdjust="spacingAndGlyphs">CFU-M</text>
<rect x="244.3" y="375.8" width="10.5" height="5.4" fill="#a4002a"/>
<text x="258.2" y="381.2" font-size="8.1" textLength="24.4" lengthAdjust="spacingAndGlyphs">CFU-G</text>
<text x="315.5" y="321.4" font-size="11" font-weight="bold" style="fill:#000;stroke:#000">H</text>
<line x1="353.4" y1="322.6" x2="353.4" y2="433.55" stroke="#3a3a3a" stroke-width="1.1"/>
<line x1="350.4" y1="433" x2="353.4" y2="433" stroke="#3a3a3a" stroke-width="0.99"/>
<text x="347.2" y="435.65" font-size="8.1" text-anchor="end" textLength="4.27" lengthAdjust="spacingAndGlyphs">0</text>
<line x1="350.4" y1="411.44" x2="353.4" y2="411.44" stroke="#3a3a3a" stroke-width="0.99"/>
<text x="347.2" y="414.09" font-size="8.1" text-anchor="end" textLength="4.27" lengthAdjust="spacingAndGlyphs">2</text>
<line x1="350.4" y1="389.88" x2="353.4" y2="389.88" stroke="#3a3a3a" stroke-width="0.99"/>
<text x="347.2" y="392.53" font-size="8.1" text-anchor="end" textLength="4.27" lengthAdjust="spacingAndGlyphs">4</text>
<line x1="350.4" y1="368.32" x2="353.4" y2="368.32" stroke="#3a3a3a" stroke-width="0.99"/>
<text x="347.2" y="370.97" font-size="8.1" text-anchor="end" textLength="4.27" lengthAdjust="spacingAndGlyphs">6</text>
<line x1="350.4" y1="346.76" x2="353.4" y2="346.76" stroke="#3a3a3a" stroke-width="0.99"/>
<text x="347.2" y="349.41" font-size="8.1" text-anchor="end" textLength="4.27" lengthAdjust="spacingAndGlyphs">8</text>
<line x1="350.4" y1="325.2" x2="353.4" y2="325.2" stroke="#3a3a3a" stroke-width="0.99"/>
<text x="347.2" y="327.85" font-size="8.1" text-anchor="end" textLength="8.54" lengthAdjust="spacingAndGlyphs">10</text>
<line x1="352.85" y1="433.25" x2="414.1" y2="433.25" stroke="#3a3a3a" stroke-width="1.4"/>
<line x1="373.1" y1="433" x2="373.1" y2="435.8" stroke="#3a3a3a" stroke-width="0.99"/>
<line x1="403.9" y1="433" x2="403.9" y2="435.8" stroke="#3a3a3a" stroke-width="0.99"/>
<rect x="364.35" y="359.55" width="17.6" height="73.1" fill="#a4002a" stroke="#94001f" stroke-width="0.7"/>
<rect x="395.15" y="351.25" width="17.4" height="81.4" fill="#2e4c80" stroke="#1e3a73" stroke-width="0.7"/>
<line x1="373.1" y1="344.6" x2="373.1" y2="359.2" stroke="#1a1a1a" stroke-width="1.1"/>
<line x1="368.5" y1="344.6" x2="377.7" y2="344.6" stroke="#1a1a1a" stroke-width="1.1"/>
<line x1="403.6" y1="336.5" x2="403.6" y2="350.9" stroke="#1a1a1a" stroke-width="1.1"/>
<line x1="399" y1="336.5" x2="408.2" y2="336.5" stroke="#1a1a1a" stroke-width="1.1"/>
<text x="387.7" y="330.2" font-size="6.6" text-anchor="middle" style="fill:#222;stroke:none" textLength="23.4" lengthAdjust="spacingAndGlyphs">p=0.67</text>
<text x="373" y="446.1" font-size="7.9" text-anchor="middle" textLength="25" lengthAdjust="spacingAndGlyphs">Control</text>
<text x="403.7" y="446.1" font-size="7.9" text-anchor="middle" textLength="21.2" lengthAdjust="spacingAndGlyphs">GAS6</text>
<path d="M350.4,449.6 L350.4,452.4 Q350.4,453.9 351.9,453.9 L423.1,453.9 Q424.6,453.9 424.6,452.4 L424.6,449.6 M387.5,453.9 L387.5,458.9" fill="none" stroke="#333" stroke-width="0.9"/>
<text x="387.7" y="469.2" font-size="7.9" text-anchor="middle" textLength="23.6" lengthAdjust="spacingAndGlyphs">No dox</text>
<text transform="translate(330.7,378.05) rotate(-90)" text-anchor="middle" font-size="9.2" style="stroke-width:0.3px" textLength="46.1" lengthAdjust="spacingAndGlyphs"><tspan font-size="7.4" dy="0.6">γ</tspan><tspan dy="-0.6">H2AX foci/cell</tspan></text>
<text x="7.4" y="496.5" font-size="11" font-weight="bold" style="fill:#000;stroke:#000">I</text>
<line x1="52.6" y1="515.9" x2="52.6" y2="605.85" stroke="#3a3a3a" stroke-width="1.1"/>
<line x1="49.6" y1="605.3" x2="52.6" y2="605.3" stroke="#3a3a3a" stroke-width="0.99"/>
<text x="46.4" y="607.95" font-size="8.1" text-anchor="end" textLength="4.27" lengthAdjust="spacingAndGlyphs">0</text>
<line x1="49.6" y1="576.3" x2="52.6" y2="576.3" stroke="#3a3a3a" stroke-width="0.99"/>
<text x="46.4" y="578.95" font-size="8.1" text-anchor="end" textLength="12.82" lengthAdjust="spacingAndGlyphs">100</text>
<line x1="49.6" y1="547.3" x2="52.6" y2="547.3" stroke="#3a3a3a" stroke-width="0.99"/>
<text x="46.4" y="549.95" font-size="8.1" text-anchor="end" textLength="12.82" lengthAdjust="spacingAndGlyphs">200</text>
<line x1="49.6" y1="518.3" x2="52.6" y2="518.3" stroke="#3a3a3a" stroke-width="0.99"/>
<text x="46.4" y="520.95" font-size="8.1" text-anchor="end" textLength="12.82" lengthAdjust="spacingAndGlyphs">300</text>
<line x1="52.05" y1="605.55" x2="139.3" y2="605.55" stroke="#3a3a3a" stroke-width="1.4"/>
<line x1="66.05" y1="605.3" x2="66.05" y2="608.1" stroke="#3a3a3a" stroke-width="0.99"/>
<line x1="86.2" y1="605.3" x2="86.2" y2="608.1" stroke="#3a3a3a" stroke-width="0.99"/>
<line x1="106.35" y1="605.3" x2="106.35" y2="608.1" stroke="#3a3a3a" stroke-width="0.99"/>
<line x1="126.35" y1="605.3" x2="126.35" y2="608.1" stroke="#3a3a3a" stroke-width="0.99"/>
<rect x="59.95" y="549.39" width="12.2" height="55.56" fill="#a4002a" stroke="#94001f" stroke-width="0.7"/>
<rect x="80.15" y="534.89" width="12.1" height="70.06" fill="#2e4c80" stroke="#1e3a73" stroke-width="0.7"/>
<rect x="100.45" y="594.92" width="11.8" height="10.03" fill="#67a64a" stroke="#57983a" stroke-width="0.7"/>
<rect x="120.35" y="567.37" width="12" height="37.58" fill="#522468" stroke="#431a58" stroke-width="0.7"/>
<text x="95.3" y="505.7" font-size="9.6" text-anchor="middle" textLength="35.9" lengthAdjust="spacingAndGlyphs">Patient 1</text>
<text transform="translate(70.85,614.8) rotate(-45)" text-anchor="end" font-size="7.7">Day 3</text>
<text transform="translate(91,614.8) rotate(-45)" text-anchor="end" font-size="7.7">Day 3 GAS6</text>
<text transform="translate(111.15,614.8) rotate(-45)" text-anchor="end" font-size="7.7">Day 7</text>
<text transform="translate(131.15,614.8) rotate(-45)" text-anchor="end" font-size="7.7">Day 7 GAS6</text>
<line x1="161.4" y1="514.6" x2="161.4" y2="605.85" stroke="#3a3a3a" stroke-width="1.1"/>
<line x1="158.4" y1="605.3" x2="161.4" y2="605.3" stroke="#3a3a3a" stroke-width="0.99"/>
<text x="155.2" y="607.95" font-size="8.1" text-anchor="end" textLength="4.27" lengthAdjust="spacingAndGlyphs">0</text>
<line x1="158.4" y1="587.74" x2="161.4" y2="587.74" stroke="#3a3a3a" stroke-width="0.99"/>
<text x="155.2" y="590.39" font-size="8.1" text-anchor="end" textLength="4.27" lengthAdjust="spacingAndGlyphs">5</text>
<line x1="158.4" y1="570.18" x2="161.4" y2="570.18" stroke="#3a3a3a" stroke-width="0.99"/>
<text x="155.2" y="572.83" font-size="8.1" text-anchor="end" textLength="8.54" lengthAdjust="spacingAndGlyphs">10</text>
<line x1="158.4" y1="552.62" x2="161.4" y2="552.62" stroke="#3a3a3a" stroke-width="0.99"/>
<text x="155.2" y="555.27" font-size="8.1" text-anchor="end" textLength="8.54" lengthAdjust="spacingAndGlyphs">15</text>
<line x1="158.4" y1="535.06" x2="161.4" y2="535.06" stroke="#3a3a3a" stroke-width="0.99"/>
<text x="155.2" y="537.71" font-size="8.1" text-anchor="end" textLength="8.54" lengthAdjust="spacingAndGlyphs">20</text>
<line x1="158.4" y1="517.5" x2="161.4" y2="517.5" stroke="#3a3a3a" stroke-width="0.99"/>
<text x="155.2" y="520.15" font-size="8.1" text-anchor="end" textLength="8.54" lengthAdjust="spacingAndGlyphs">25</text>
<line x1="160.85" y1="605.55" x2="247" y2="605.55" stroke="#3a3a3a" stroke-width="1.4"/>
<line x1="174.1" y1="605.3" x2="174.1" y2="608.1" stroke="#3a3a3a" stroke-width="0.99"/>
<line x1="194.5" y1="605.3" x2="194.5" y2="608.1" stroke="#3a3a3a" stroke-width="0.99"/>
<line x1="214.4" y1="605.3" x2="214.4" y2="608.1" stroke="#3a3a3a" stroke-width="0.99"/>
<line x1="234.3" y1="605.3" x2="234.3" y2="608.1" stroke="#3a3a3a" stroke-width="0.99"/>
<rect x="168.05" y="552.97" width="12.1" height="51.98" fill="#a4002a" stroke="#94001f" stroke-width="0.7"/>
<rect x="188.35" y="531.9" width="12.3" height="73.05" fill="#2e4c80" stroke="#1e3a73" stroke-width="0.7"/>
<rect x="208.25" y="591.6" width="12.3" height="13.35" fill="#67a64a" stroke="#57983a" stroke-width="0.7"/>
<rect x="228.15" y="598.63" width="12.3" height="6.32" fill="#522468" stroke="#431a58" stroke-width="0.7"/>
<text x="204.15" y="505.7" font-size="9.6" text-anchor="middle" textLength="35.9" lengthAdjust="spacingAndGlyphs">Patient 2</text>
<text transform="translate(178.9,614.8) rotate(-45)" text-anchor="end" font-size="7.7">Day 3</text>
<text transform="translate(199.3,614.8) rotate(-45)" text-anchor="end" font-size="7.7">Day 3 GAS6</text>
<text transform="translate(219.2,614.8) rotate(-45)" text-anchor="end" font-size="7.7">Day 7</text>
<text transform="translate(239.1,614.8) rotate(-45)" text-anchor="end" font-size="7.7">Day 7 GAS6</text>
<line x1="269.1" y1="514" x2="269.1" y2="605.85" stroke="#3a3a3a" stroke-width="1.1"/>
<line x1="266.1" y1="605.3" x2="269.1" y2="605.3" stroke="#3a3a3a" stroke-width="0.99"/>
<text x="262.9" y="607.95" font-size="8.1" text-anchor="end" textLength="4.27" lengthAdjust="spacingAndGlyphs">0</text>
<line x1="266.1" y1="575.77" x2="269.1" y2="575.77" stroke="#3a3a3a" stroke-width="0.99"/>
<text x="262.9" y="578.42" font-size="8.1" text-anchor="end" textLength="8.54" lengthAdjust="spacingAndGlyphs">20</text>
<line x1="266.1" y1="546.24" x2="269.1" y2="546.24" stroke="#3a3a3a" stroke-width="0.99"/>
<text x="262.9" y="548.89" font-size="8.1" text-anchor="end" textLength="8.54" lengthAdjust="spacingAndGlyphs">40</text>
<line x1="266.1" y1="516.71" x2="269.1" y2="516.71" stroke="#3a3a3a" stroke-width="0.99"/>
<text x="262.9" y="519.36" font-size="8.1" text-anchor="end" textLength="8.54" lengthAdjust="spacingAndGlyphs">60</text>
<line x1="268.55" y1="605.55" x2="355.8" y2="605.55" stroke="#3a3a3a" stroke-width="1.4"/>
<line x1="282.3" y1="605.3" x2="282.3" y2="608.1" stroke="#3a3a3a" stroke-width="0.99"/>
<line x1="302.5" y1="605.3" x2="302.5" y2="608.1" stroke="#3a3a3a" stroke-width="0.99"/>
<line x1="322.45" y1="605.3" x2="322.45" y2="608.1" stroke="#3a3a3a" stroke-width="0.99"/>
<line x1="342.4" y1="605.3" x2="342.4" y2="608.1" stroke="#3a3a3a" stroke-width="0.99"/>
<rect x="276.15" y="524.44" width="12.3" height="80.51" fill="#a4002a" stroke="#94001f" stroke-width="0.7"/>
<rect x="296.35" y="522.97" width="12.3" height="81.98" fill="#2e4c80" stroke="#1e3a73" stroke-width="0.7"/>
<rect x="316.25" y="562.83" width="12.4" height="42.12" fill="#67a64a" stroke="#57983a" stroke-width="0.7"/>
<rect x="336.25" y="542.16" width="12.3" height="62.79" fill="#522468" stroke="#431a58" stroke-width="0.7"/>
<text x="312.5" y="505.7" font-size="9.6" text-anchor="middle" textLength="35.9" lengthAdjust="spacingAndGlyphs">Patient 3</text>
<text transform="translate(287.1,614.8) rotate(-45)" text-anchor="end" font-size="7.7">Day 3</text>
<text transform="translate(307.3,614.8) rotate(-45)" text-anchor="end" font-size="7.7">Day 3 GAS6</text>
<text transform="translate(327.25,614.8) rotate(-45)" text-anchor="end" font-size="7.7">Day 7</text>
<text transform="translate(347.2,614.8) rotate(-45)" text-anchor="end" font-size="7.7">Day 7 GAS6</text>
<line x1="372.5" y1="511.4" x2="372.5" y2="605.85" stroke="#3a3a3a" stroke-width="1.1"/>
<line x1="369.5" y1="605.3" x2="372.5" y2="605.3" stroke="#3a3a3a" stroke-width="0.99"/>
<text x="366.3" y="607.95" font-size="8.1" text-anchor="end" textLength="4.27" lengthAdjust="spacingAndGlyphs">0</text>
<line x1="369.5" y1="582.6" x2="372.5" y2="582.6" stroke="#3a3a3a" stroke-width="0.99"/>
<text x="366.3" y="585.25" font-size="8.1" text-anchor="end" textLength="4.27" lengthAdjust="spacingAndGlyphs">2</text>
<line x1="369.5" y1="559.9" x2="372.5" y2="559.9" stroke="#3a3a3a" stroke-width="0.99"/>
<text x="366.3" y="562.55" font-size="8.1" text-anchor="end" textLength="4.27" lengthAdjust="spacingAndGlyphs">4</text>
<line x1="369.5" y1="537.2" x2="372.5" y2="537.2" stroke="#3a3a3a" stroke-width="0.99"/>
<text x="366.3" y="539.85" font-size="8.1" text-anchor="end" textLength="4.27" lengthAdjust="spacingAndGlyphs">6</text>
<line x1="369.5" y1="514.5" x2="372.5" y2="514.5" stroke="#3a3a3a" stroke-width="0.99"/>
<text x="366.3" y="517.15" font-size="8.1" text-anchor="end" textLength="4.27" lengthAdjust="spacingAndGlyphs">8</text>
<line x1="371.95" y1="605.55" x2="459" y2="605.55" stroke="#3a3a3a" stroke-width="1.4"/>
<line x1="385.6" y1="605.3" x2="385.6" y2="608.1" stroke="#3a3a3a" stroke-width="0.99"/>
<line x1="406.1" y1="605.3" x2="406.1" y2="608.1" stroke="#3a3a3a" stroke-width="0.99"/>
<line x1="425.9" y1="605.3" x2="425.9" y2="608.1" stroke="#3a3a3a" stroke-width="0.99"/>
<line x1="445.9" y1="605.3" x2="445.9" y2="608.1" stroke="#3a3a3a" stroke-width="0.99"/>
<rect x="379.55" y="594.3" width="12.1" height="10.65" fill="#a4002a" stroke="#94001f" stroke-width="0.7"/>
<rect x="400.05" y="526.2" width="12.1" height="78.75" fill="#2e4c80" stroke="#1e3a73" stroke-width="0.7"/>
<text x="415.9" y="505.7" font-size="9.6" text-anchor="middle" textLength="35.9" lengthAdjust="spacingAndGlyphs">Patient 4</text>
<text transform="translate(390.4,614.8) rotate(-45)" text-anchor="end" font-size="7.7">Day 3</text>
<text transform="translate(410.9,614.8) rotate(-45)" text-anchor="end" font-size="7.7">Day 3 GAS6</text>
<text transform="translate(430.7,614.8) rotate(-45)" text-anchor="end" font-size="7.7">Day 7</text>
<text transform="translate(450.7,614.8) rotate(-45)" text-anchor="end" font-size="7.7">Day 7 GAS6</text>
<text transform="translate(26.7,560.35) rotate(-90)" text-anchor="middle" font-size="9.2" style="stroke-width:0.3px" textLength="92.9" lengthAdjust="spacingAndGlyphs">Colonies per 10,000 cells plated</text>
<rect x="0" y="0" width="1.15" height="654" fill="#0e0e0e"/>
<rect x="0" y="0" width="520" height="1.1" fill="#0e0e0e"/>
<rect x="518.65" y="0" width="1.35" height="654" fill="#0e0e0e"/>
<rect x="0" y="652.65" width="520" height="1.35" fill="#0e0e0e"/>
</svg>
</body></html>
